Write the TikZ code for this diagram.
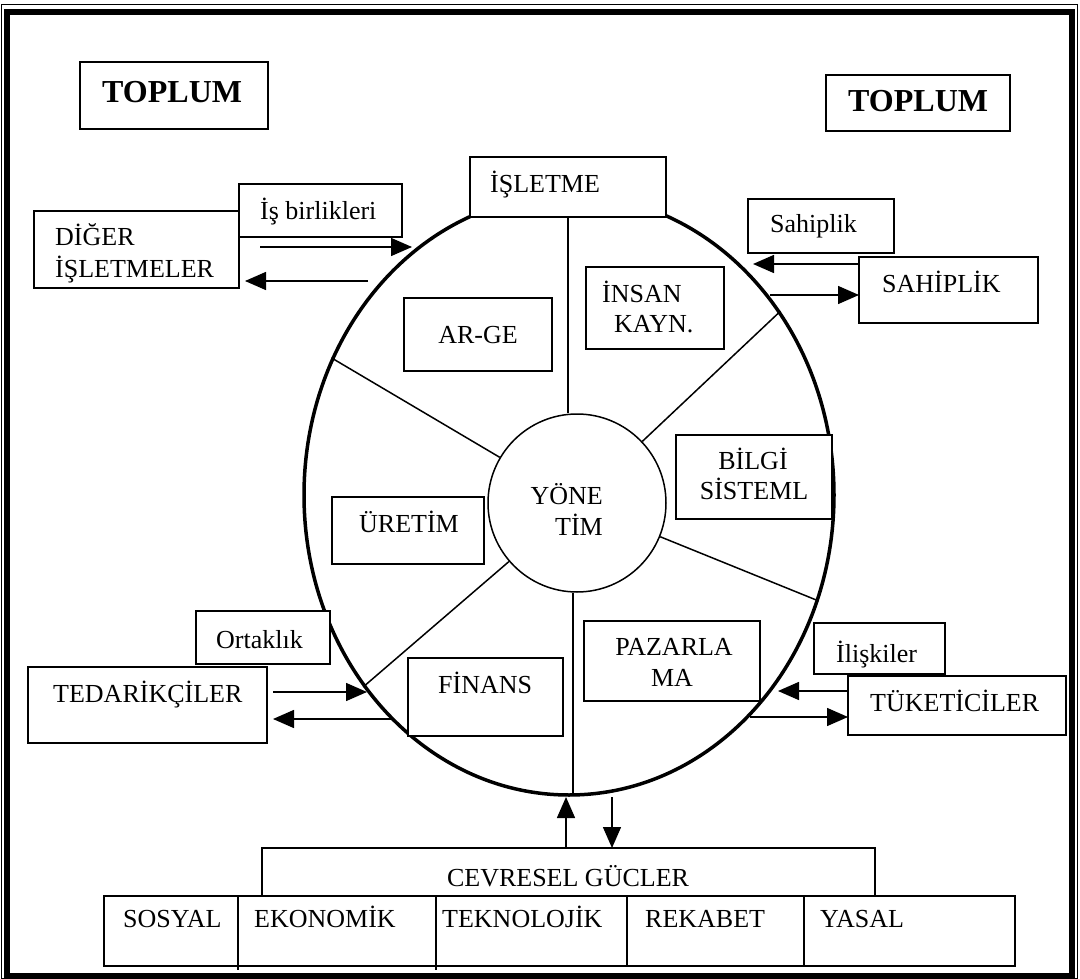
\documentclass[tikz,border=0pt]{standalone}
\usepackage{fontspec}
\setmainfont{Liberation Serif}
\usetikzlibrary{arrows.meta,shapes.geometric}
% rectangle node from its top-left (x1,y1) to its bottom-right (x2,y2)
\newcommand\boxat[5]{\node[box,minimum width={#4-#2},minimum height={#5-#3}] (#1) at (#2,#3) {};}
\begin{document}
\begin{tikzpicture}[x=1pt,y=-1pt,
  box/.style={draw,line width=1.4pt,fill=white,inner sep=0pt,outer sep=0pt,anchor=north west},
  txt/.style={inner sep=0pt,font=\fontsize{26}{31}\selectfont},
  lt/.style={txt,anchor=base west},
  ct/.style={txt,anchor=base},
  rt/.style={txt,anchor=base east},
  big/.style={inner sep=0pt,anchor=base west,font=\fontsize{32}{38}\selectfont\bfseries},
  arr/.style={line width=1.5pt,-{Triangle[length=21pt,width=18pt]}},
  spoke/.style={line width=1.5pt},
]
\useasboundingbox (0,0) rectangle (1080,979);
\fill[white] (0,0) rectangle (1080,979);

% page frame
\draw[line width=1pt] (1.5,5) rectangle (1077.5,978.5);
\draw[line width=6pt] (6.5,12) rectangle (1071.5,976);

% society
\boxat{topL}{80}{62}{268}{129}
\node[big] (topLt) at (102,103) {TOPLUM};
\boxat{topR}{826}{75}{1010}{131}
\node[big] (topRt) at (848,112) {TOPLUM};

% the firm and its management core
\node[draw,ellipse,line width=3.5pt,minimum width=530,minimum height=600,inner sep=0pt] (firm) at (569,495) {};
\node[draw,circle,line width=1.5pt,minimum size=178,inner sep=0pt] (yon) at (577,503) {};

\coordinate (spT) at (568,217);
\coordinate (spB) at (573,795);
\draw[spoke] (spT |- yon.north) -- (spT);
\draw[spoke] (spB |- yon.south) -- (spB);
\draw[spoke] (yon) -- (firm.150.4);
\draw[spoke] (yon) -- (firm.41);
\draw[spoke] (yon) -- (firm.337.4);
\draw[spoke] (yon) -- (firm.223.8);

\node[rt] (yon1) at (603,504) {YÖNE};
\node[rt] (yon2) at (603,535) {TİM};

% departments
\boxat{isletme}{470}{157}{666}{217}
\node[lt] (isletmet) at (490,193) {İŞLETME};
\boxat{arge}{404}{298}{552}{371}
\node[ct] (arget) at (478,343) {AR-GE};
\boxat{insan}{586}{267}{724}{349}
\node[lt] (insan1) at (602,302) {İNSAN};
\node[lt] (insan2) at (614,332) {KAYN.};
\boxat{bilgi}{676}{435}{832}{519}
\node[ct] (bilgi1) at (753,469) {BİLGİ};
\node[ct] (bilgi2) at (754,499) {SİSTEML};
\boxat{uretim}{332}{497}{484}{564}
\node[ct] (uretimt) at (409,532) {ÜRETİM};
\boxat{finans}{408}{658}{563}{736}
\node[lt] (finanst) at (438,693) {FİNANS};
\boxat{pazar}{584}{621}{760}{701}
\node[ct] (pazar1) at (674,655) {PAZARLA};
\node[ct] (pazar2) at (672,686) {MA};

% other firms
\boxat{diger}{34}{211}{239}{288}
\node[lt] (diger1) at (55,245) {DİĞER};
\node[lt] (diger2) at (55,277) {İŞLETMELER};
\boxat{isbir}{239}{184}{402}{237}
\node[lt] (isbirt) at (260,220) {İş birlikleri};

% ownership
\boxat{sahipS}{748}{199}{894}{253}
\node[lt] (sahipSt) at (770,233) {Sahiplik};
\boxat{sahipB}{859}{257}{1038}{323}
\node[lt] (sahipBt) at (882,292) {SAHİPLİK};

% suppliers
\boxat{ortak}{196}{611}{330}{664}
\node[lt] (ortakt) at (216,648) {Ortaklık};
\boxat{tedar}{28}{667}{267}{743}
\node[lt] (tedart) at (53,702) {TEDARİKÇİLER};

% consumers
\boxat{iliski}{814}{623}{945}{674}
\node[lt] (iliskit) at (836,662) {İlişkiler};
\boxat{tuket}{848}{676}{1066}{735}
\node[lt] (tukett) at (870,711) {TÜKETİCİLER};

% environmental forces
\boxat{cevre}{262}{848}{875}{896}
\node[ct] (cevret) at (568,886) {CEVRESEL GÜCLER};
\boxat{row}{104}{896}{1015}{966}
\coordinate (dv1) at (238,970);
\coordinate (dv2) at (436,970);
\coordinate (dv3) at (627,966);
\coordinate (dv4) at (804,966);
\foreach \d in {dv1,dv2,dv3,dv4} \draw[line width=1.4pt] (row.north -| \d) -- (\d);
\node[lt] (f1) at (123,927) {SOSYAL};
\node[lt] (f2) at (254,927) {EKONOMİK};
\node[lt] (f3) at (442,927) {TEKNOLOJİK};
\node[lt] (f4) at (645,927) {REKABET};
\node[lt] (f5) at (820,927) {YASAL};

% exchanges
\coordinate (a1s) at (260,247);  \coordinate (a1e) at (412,247);
\coordinate (a2s) at (368,281);  \coordinate (a2e) at (245,281);
\draw[arr] (a1s) -- (a1e);
\draw[arr] (a2s) -- (a2e);

\coordinate (a3e) at (753,264);
\coordinate (a4s) at (770,295);
\draw[arr] (sahipB.west |- 0,264) -- (a3e);
\draw[arr] (a4s) -- (sahipB.west |- a4s);

\coordinate (a5s) at (273,692);  \coordinate (a5e) at (367,692);
\coordinate (a6s) at (393,719);  \coordinate (a6e) at (273,719);
\draw[arr] (a5s) -- (a5e);
\draw[arr] (a6s) -- (a6e);

\coordinate (a7e) at (778,691);
\coordinate (a8s) at (750,717);
\draw[arr] (tuket.west |- a7e) -- (a7e);
\draw[arr] (a8s) -- (tuket.west |- a8s);

\coordinate (a9e) at (566,797);
\coordinate (a10s) at (612,797);
\draw[arr] (cevre.north -| a9e) -- (a9e);
\draw[arr] (a10s) -- (cevre.north -| a10s);
\end{tikzpicture}
\end{document}
